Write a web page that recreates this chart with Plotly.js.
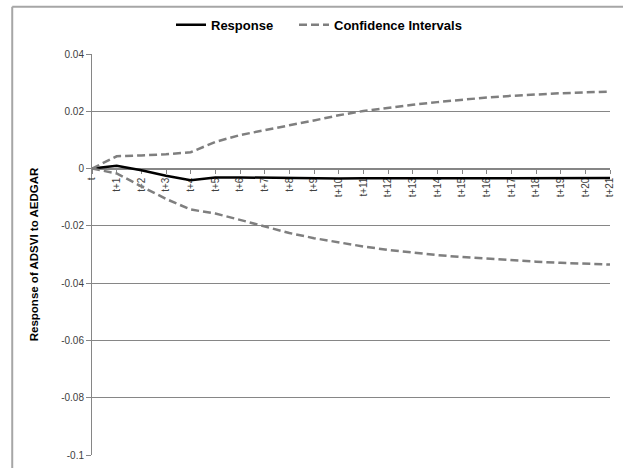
<!DOCTYPE html>
<html>
<head>
<meta charset="utf-8">
<script src="https://cdn.plot.ly/plotly-3.0.1.min.js"></script>
<style>
html,body{margin:0;padding:0;background:#fff;}
#chart{width:623px;height:468px;}
</style>
</head>
<body>
<div id="chart"></div>
<script>
var periods = ["t","t+1","t+2","t+3","t+4","t+5","t+6","t+7","t+8","t+9","t+10","t+11","t+12","t+13","t+14","t+15","t+16","t+17","t+18","t+19","t+20","t+21"];
var response = [0, 0.001, -0.0006, -0.0025, -0.0041, -0.0031, -0.0031, -0.0032, -0.0034, -0.0035, -0.0035, -0.0034, -0.0034, -0.0034, -0.0034, -0.0034, -0.0033, -0.0033, -0.0033, -0.0033, -0.0033, -0.0033];
var upperCI = [0, 0.0043, 0.0046, 0.005, 0.0057, 0.0093, 0.0117, 0.0135, 0.0151, 0.0168, 0.0186, 0.0201, 0.0213, 0.0223, 0.0232, 0.0241, 0.0248, 0.0254, 0.0259, 0.0263, 0.0266, 0.0269];
var lowerCI = [0, -0.0017, -0.0062, -0.0106, -0.0143, -0.0157, -0.0179, -0.0203, -0.0225, -0.0243, -0.0258, -0.0272, -0.0284, -0.0294, -0.0302, -0.0309, -0.0315, -0.032, -0.0325, -0.0329, -0.0332, -0.0335];
var yTicks = [0.04, 0.02, 0, -0.02, -0.04, -0.06, -0.08, -0.1];
var yTickLabels = ["0.04", "0.02", "0", "-0.02", "-0.04", "-0.06", "-0.08", "-0.1"];

var fontFam = "'Liberation Sans', Arial, sans-serif";
var xIdx = periods.map(function(_, i){ return i; });

var traces = [
  {x: xIdx, y: response, type: 'scatter', mode: 'lines', name: 'Response',
   legend: 'legend', line: {color: '#000000', width: 2.5}},
  {x: xIdx, y: upperCI, type: 'scatter', mode: 'lines', name: 'Confidence Intervals',
   legend: 'legend2', legendgroup: 'ci', line: {color: '#7f7f7f', width: 2.5, dash: '8px,4px'}},
  {x: xIdx, y: lowerCI, type: 'scatter', mode: 'lines', name: 'Confidence Intervals',
   legend: 'legend2', legendgroup: 'ci', showlegend: false, line: {color: '#7f7f7f', width: 2.5, dash: '8px,4px'}}
];

var legendFont = {family: fontFam, size: 13, color: '#000000', weight: 'bold'};
var yMin = -0.1, yMax = 0.04;
var layout = {
  width: 623, height: 468,
  margin: {l: 92, r: 13, t: 54, b: 13},
  paper_bgcolor: '#ffffff', plot_bgcolor: '#ffffff',
  font: {family: fontFam, size: 10, color: '#404040'},
  showlegend: true,
  legend: {orientation: 'h', x: 171 / 623, xref: 'container', xanchor: 'left',
           y: 0.947, yref: 'container', yanchor: 'middle',
           font: legendFont, itemwidth: 30, bgcolor: 'rgba(0,0,0,0)'},
  legend2: {orientation: 'h', x: 294 / 623, xref: 'container', xanchor: 'left',
           y: 0.947, yref: 'container', yanchor: 'middle',
           font: legendFont, itemwidth: 30, bgcolor: 'rgba(0,0,0,0)'},
  xaxis: {
    type: 'linear', range: [0, 21],
    tickmode: 'array', tickvals: xIdx, ticktext: periods,
    tickangle: -90, ticks: 'outside', ticklen: 4, tickcolor: '#868686',
    showgrid: false, zeroline: false,
    showline: true, linecolor: '#868686', linewidth: 1,
    anchor: 'free', position: (0 - yMin) / (yMax - yMin),
    layer: 'below traces',
    tickfont: {family: fontFam, size: 10, color: '#404040'}
  },
  yaxis: {
    range: [yMin, yMax],
    tickmode: 'array', tickvals: yTicks, ticktext: yTickLabels,
    ticks: 'outside', ticklen: 5, tickcolor: '#868686',
    showgrid: true, gridcolor: '#868686', gridwidth: 1,
    zeroline: false, showline: true, linecolor: '#868686', linewidth: 1,
    layer: 'below traces',
    tickfont: {family: fontFam, size: 10, color: '#404040'},
    title: {text: 'Response of ADSVI to AEDGAR', standoff: 20,
            font: {family: fontFam, size: 11.5, color: '#000000', weight: 'bold'}}
  },
  shapes: [
    {type: 'line', layer: 'above', xref: 'paper', yref: 'paper',
     x0: -0.154, x1: 1.03, y0: 1.118, y1: 1.118,
     line: {color: '#a6a6a6', width: 2}},
    {type: 'line', layer: 'above', xref: 'paper', yref: 'paper',
     x0: -0.154, x1: -0.154, y0: -0.04, y1: 1.118,
     line: {color: '#a6a6a6', width: 2}}
  ]
};
Plotly.newPlot('chart', traces, layout, {displayModeBar: false, staticPlot: true});
</script>
</body>
</html>
